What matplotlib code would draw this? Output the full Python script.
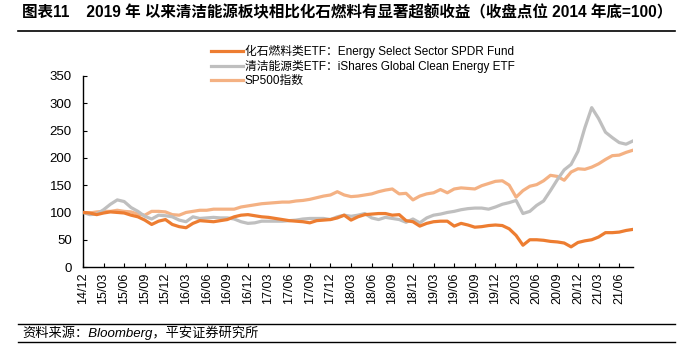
import matplotlib
matplotlib.use("Agg")
import matplotlib.pyplot as plt
import numpy as np

plt.rcParams['font.family'] = ['Liberation Sans', 'Noto Sans CJK SC', 'DejaVu Sans']

# monthly closes, 2014/12 .. 2021/08 (2014 year end = 100)
fossil = [100, 99, 96, 99, 101, 100, 99, 95, 92, 86, 78, 84, 87, 78, 74, 72, 80, 85, 84, 83,
          85, 87, 92, 95, 96, 94, 92, 91, 89, 87, 85, 84, 83, 81, 85, 86, 87, 90, 95, 86,
          92, 96, 97, 98, 98, 95, 96, 85, 83, 75, 80, 83, 84, 84, 75, 80, 77, 73, 74, 76,
          77, 76, 70, 58, 40, 50, 50, 49, 47, 46, 44, 37, 45, 48, 50, 55, 63, 63, 64, 67, 69]
clean = [100, 96, 97, 105, 115, 123, 120, 109, 102, 93, 88, 95, 94, 92, 86, 83, 92, 89, 90, 91,
         90, 90, 88, 83, 80, 81, 84, 84, 84, 84, 85, 86, 88, 89, 89, 89, 87, 92, 95, 93,
         95, 98, 90, 87, 91, 89, 87, 82, 88, 81, 90, 95, 97, 100, 102, 105, 107, 108, 108, 106,
         110, 115, 118, 122, 98, 102, 113, 121, 140, 160, 178, 188, 212, 255, 292, 272, 247, 237, 228, 225, 231]
sp500 = [100, 99, 101, 102, 102, 104, 102, 101, 97, 95, 102, 102, 101, 96, 95, 100, 102, 104, 104, 106,
         106, 106, 106, 110, 112, 114, 116, 117, 118, 119, 119, 121, 122, 124, 127, 130, 132, 138, 132, 129,
         130, 132, 134, 138, 141, 143, 134, 135, 123, 130, 134, 136, 142, 136, 143, 145, 144, 143, 149, 153,
         157, 158, 150, 128, 140, 148, 151, 158, 168, 166, 159, 174, 180, 179, 183, 189, 197, 204, 205, 210, 214]

tick_labels = ["14/12", "15/03", "15/06", "15/09", "15/12", "16/03", "16/06", "16/09", "16/12",
               "17/03", "17/06", "17/09", "17/12", "18/03", "18/06", "18/09", "18/12",
               "19/03", "19/06", "19/09", "19/12", "20/03", "20/06", "20/09", "20/12",
               "21/03", "21/06"]

names = ["化石燃料类ETF：Energy Select Sector SPDR Fund",
         "清洁能源类ETF：iShares Global Clean Energy ETF",
         "SP500指数"]
colors = ["#ED7D31", "#BFBFBF", "#F4B183"]

fig = plt.figure(figsize=(6.91, 3.5), dpi=100)
ax = fig.add_axes([0.120, 0.237, 0.796, 0.546])

x = np.arange(len(fossil))
ax.plot(x, sp500, color=colors[2], lw=2.3, label=names[2], zorder=2)
ax.plot(x, clean, color=colors[1], lw=2.3, label=names[1], zorder=3)
ax.plot(x, fossil, color=colors[0], lw=2.3, label=names[0], zorder=4)

ax.set_xlim(0, len(fossil) - 1)
ax.set_ylim(0, 350)
ax.set_yticks(range(0, 351, 50))
ax.set_xticks(np.arange(len(tick_labels)) * 3)
ax.set_xticklabels(tick_labels, rotation=90, fontsize=9)
ax.tick_params(axis='y', labelsize=9.5, direction='in', length=3, pad=8)
ax.tick_params(axis='x', direction='in', length=3, pad=4)
for s in ["top", "right"]:
    ax.spines[s].set_visible(False)
ax.spines["left"].set_linewidth(1)
ax.spines["bottom"].set_linewidth(1)

h, l = ax.get_legend_handles_labels()
order = [2, 1, 0]
leg = fig.legend([h[i] for i in order], [l[i] for i in order], loc="upper left",
                 bbox_to_anchor=(0.298, 0.885), frameon=False, fontsize=8.5,
                 handlelength=2.7, labelspacing=0.17, handletextpad=0.2, borderaxespad=0)
for t in leg.get_texts():
    t.set_family(['Liberation Sans', 'Noto Sans CJK SC'])

fig.text(0.032, 0.963, "图表11    2019 年 以来清洁能源板块相比化石燃料有显著超额收益（收盘点位 2014 年底=100）",
         fontsize=11.2, fontweight="bold", va="center", ha="left",
         family=['Liberation Sans', 'Noto Sans CJK SC'])
fig.add_artist(plt.Line2D([0.026, 0.977], [0.912, 0.912], color="black", lw=1.2))
fig.add_artist(plt.Line2D([0.026, 0.977], [0.074, 0.074], color="black", lw=1.0))
fig.add_artist(plt.Line2D([0.026, 0.977], [0.022, 0.022], color="black", lw=1.0))
fig.text(0.032, 0.049, "资料来源：Bloomberg，平安证券研究所", fontsize=9.5, style="italic",
         va="center", ha="left", family=['Liberation Sans', 'Noto Sans CJK SC'])

fig.savefig("out.png", dpi=100)
